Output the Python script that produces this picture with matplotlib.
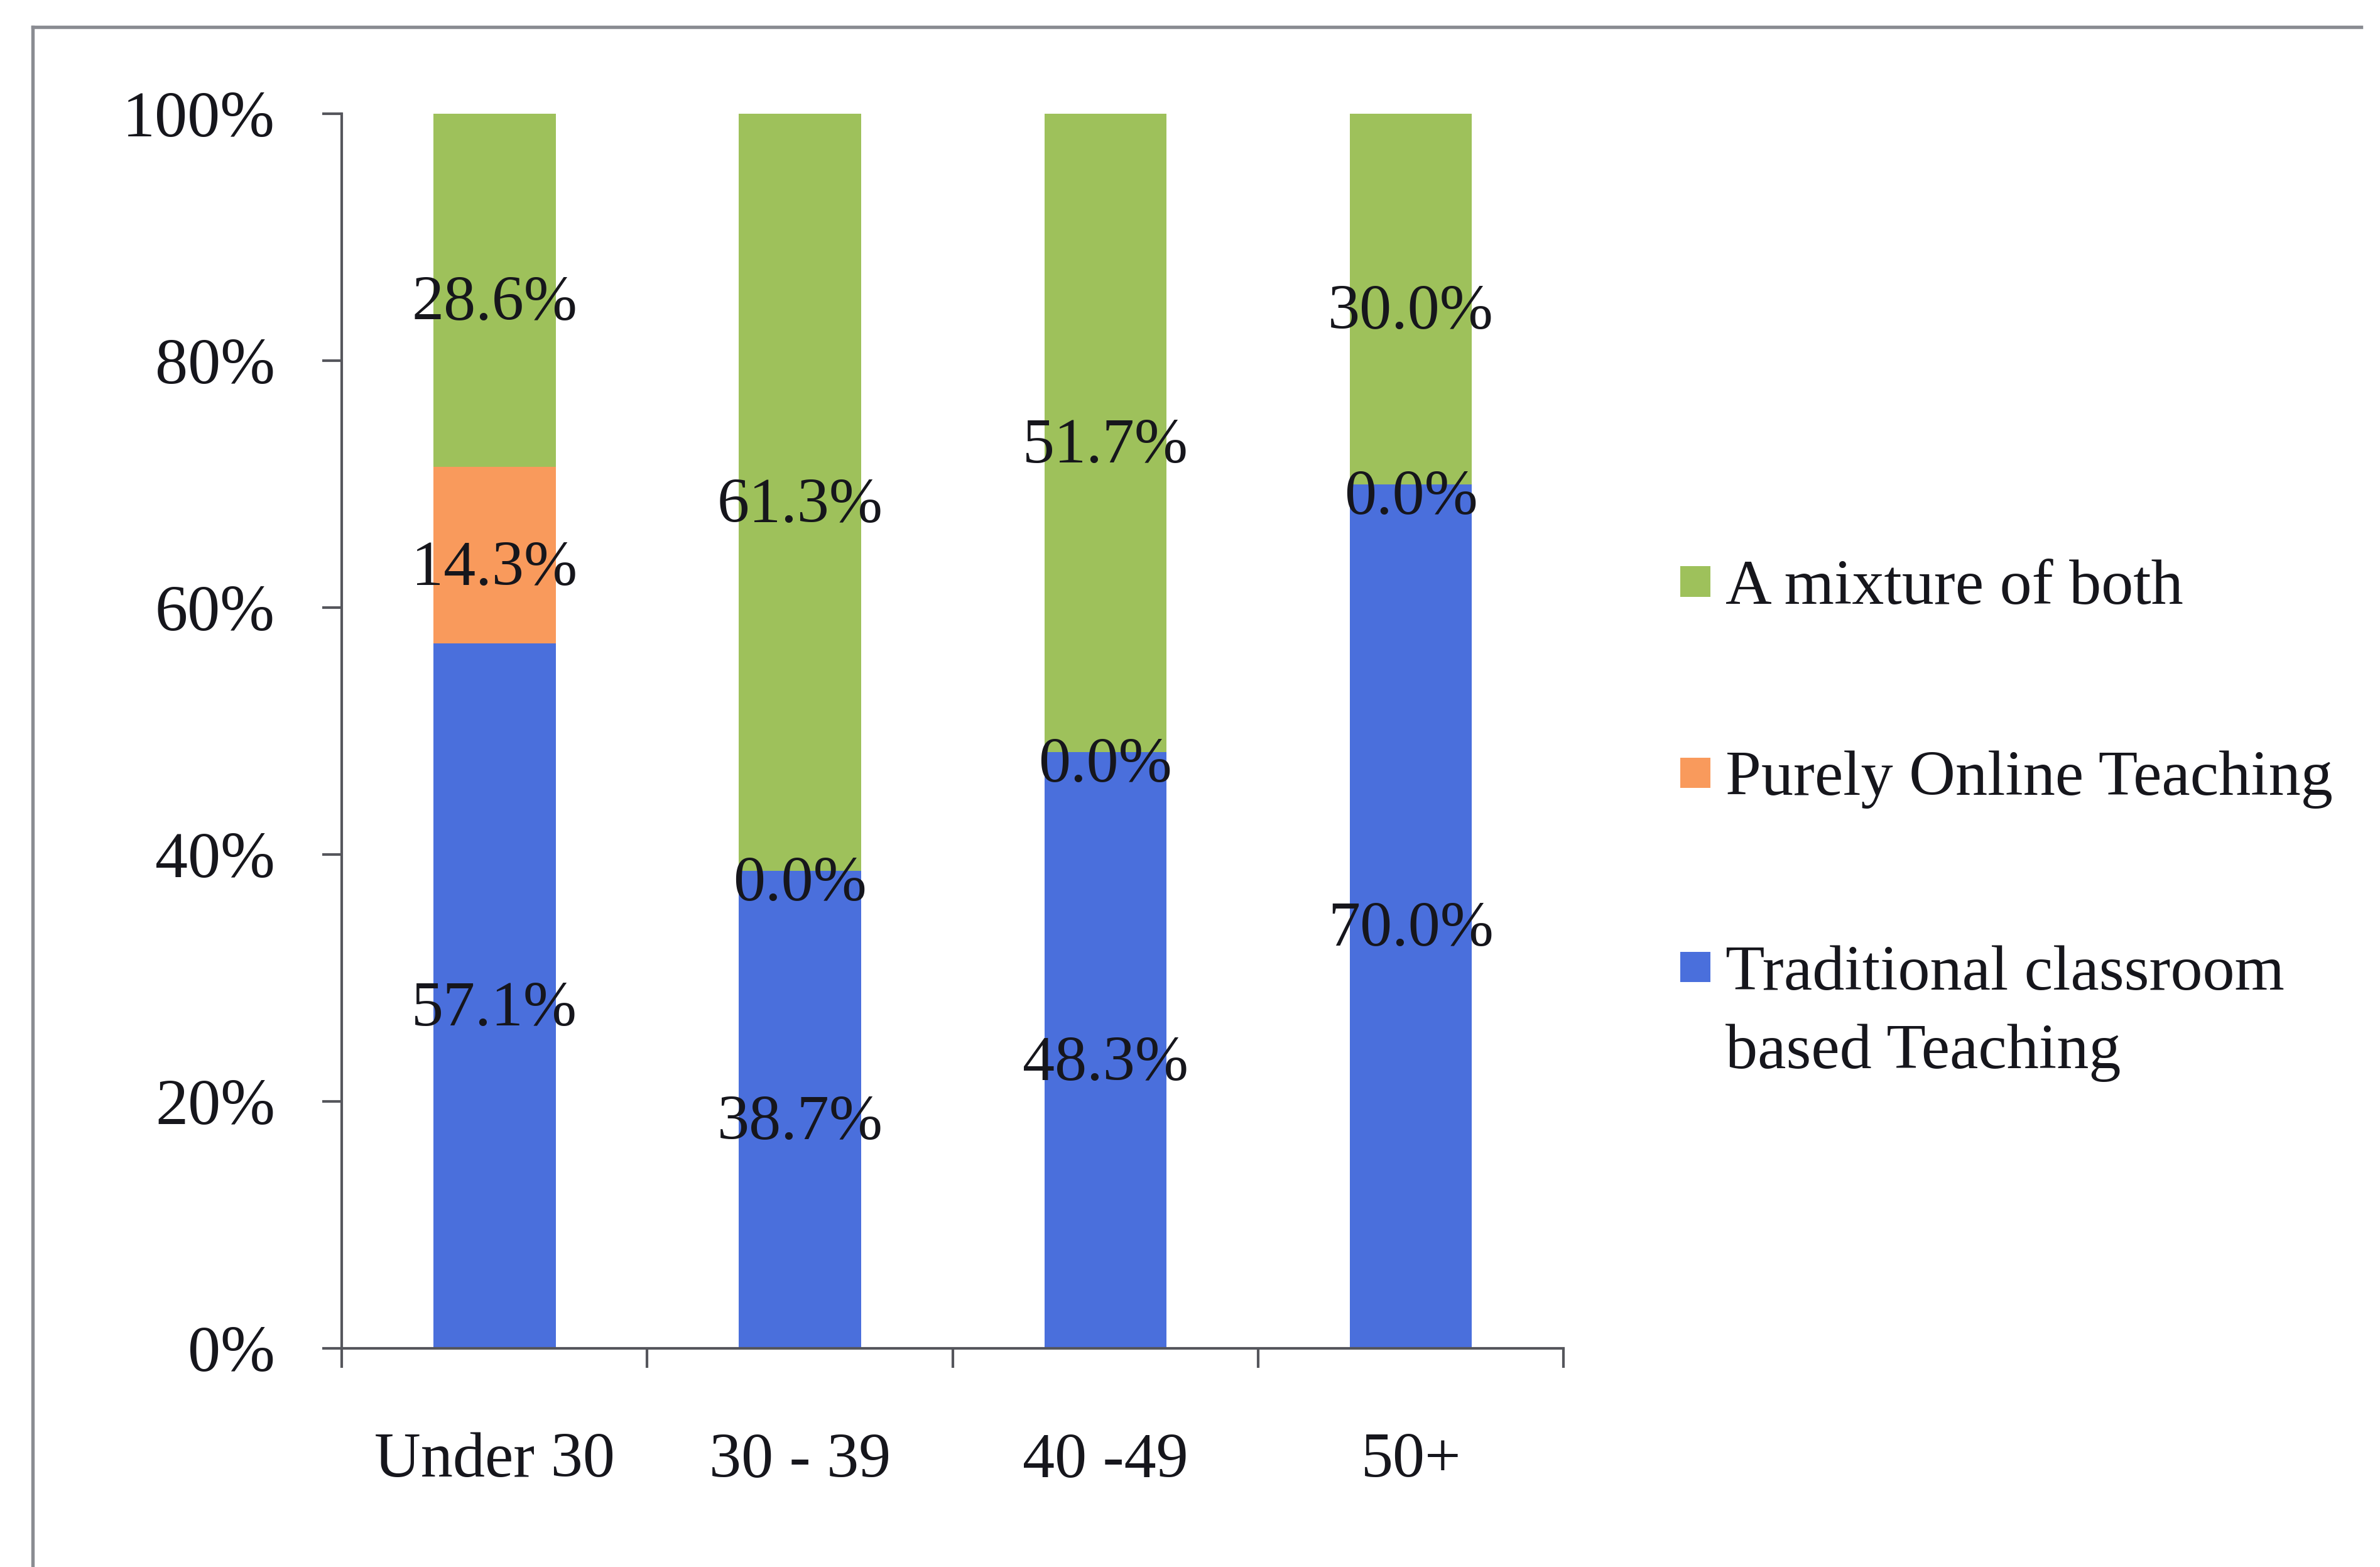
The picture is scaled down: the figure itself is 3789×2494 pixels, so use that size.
import matplotlib
matplotlib.use("Agg")
import matplotlib.pyplot as plt
from matplotlib.patches import Rectangle
from matplotlib.lines import Line2D
from matplotlib.ticker import FuncFormatter, FixedLocator

# Survey shares by age group (percent)
age_groups = ["Under 30", "30 - 39", "40 -49", "50+"]
traditional = [57.1, 38.7, 48.3, 70.0]
online = [14.3, 0.0, 0.0, 0.0]
mixture = [28.6, 61.3, 51.7, 30.0]
series_names = ["Traditional classroom\nbased Teaching", "Purely Online Teaching", "A mixture of both"]
y_ticks = [0, 20, 40, 60, 80, 100]

colors = ["#4a6fdc", "#f99a5c", "#9ec15b"]
text_color = "#16161c"
axis_color = "#55565c"
serif = ["Liberation Serif", "DejaVu Serif"]

fig = plt.figure(figsize=(3789 / 300, 2494 / 300), dpi=300)
fig.patch.set_facecolor("white")

ax = fig.add_axes([0.1436, 0.1395, 0.5134, 0.7879])

x = list(range(len(age_groups)))
width = 0.4
bottom = [0.0] * len(x)
containers = []
for vals, col in zip([traditional, online, mixture], colors):
    bc = ax.bar(x, vals, width=width, bottom=bottom, color=col, edgecolor="none", zorder=2)
    containers.append(bc)
    bottom = [b + v for b, v in zip(bottom, vals)]

# Segment value labels, sitting slightly below each segment's middle
for bc in containers:
    anns = ax.bar_label(bc, label_type="center", fmt="%.1f%%", fontsize=24.5,
                        family=serif, color=text_color)
    for a in anns:
        a.xyann = (0, -5.5)

ax.set_xlim(-0.5, len(x) - 0.5)
ax.set_ylim(0, 100)

for side in ("top", "right"):
    ax.spines[side].set_visible(False)
for side in ("left", "bottom"):
    ax.spines[side].set_color(axis_color)
    ax.spines[side].set_linewidth(1.0)

ax.set_yticks(y_ticks)
ax.yaxis.set_major_formatter(FuncFormatter(lambda v, p: f"{v:.0f}%"))
ax.tick_params(axis="y", length=7.5, width=1.0, color=axis_color, pad=18,
               labelsize=25, labelcolor=text_color)

ax.set_xticks(x)
ax.set_xticklabels(age_groups)
ax.xaxis.set_minor_locator(FixedLocator([i - 0.5 for i in range(len(x) + 1)]))
ax.tick_params(axis="x", which="major", length=0, pad=32, labelsize=24.5,
               labelcolor=text_color)
ax.tick_params(axis="x", which="minor", length=7.5, width=1.0, color=axis_color)
for lbl in ax.get_xticklabels() + ax.get_yticklabels():
    lbl.set_family(serif)

# Legend drawn as colour squares with labels, top entry first;
# the square lines up with the first line of each label
legend_rows = [(2, 0.6289), (1, 0.5068), (0, 0.3828)]
line_step = 52 / 1032
sq_w = 20 / 1568
sq_h = 20 / 1032
for idx, yc in legend_rows:
    fig.patches.append(Rectangle((0.706, yc - sq_h / 2), sq_w, sq_h,
                                 transform=fig.transFigure, facecolor=colors[idx],
                                 edgecolor="none"))
    for k, line in enumerate(series_names[idx].split("\n")):
        fig.text(0.7251, yc - k * line_step, line, fontsize=24.5, family=serif,
                 color=text_color, ha="left", va="center_baseline")

# Outer frame
frame_kw = dict(transform=fig.transFigure, color="#8a8c92", linewidth=1.3)
fig.lines.append(Line2D([0.0138, 0.0138], [0.0, 0.9826], **frame_kw))
fig.lines.append(Line2D([0.0138, 0.992], [0.9826, 0.9826], **frame_kw))

fig.savefig("out.png", dpi=300, facecolor="white")
